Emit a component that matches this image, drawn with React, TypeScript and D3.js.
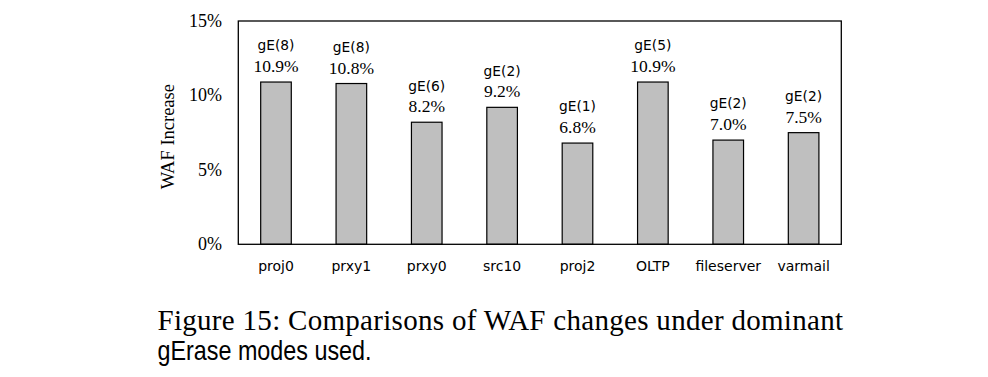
import React from "react";
import * as d3 from "d3";

const categories = ["proj0", "prxy1", "prxy0", "src10", "proj2", "OLTP", "fileserver", "varmail"];
const values = [10.9, 10.8, 8.2, 9.2, 6.8, 10.9, 7.0, 7.5];
const modes = ["gE(8)", "gE(8)", "gE(6)", "gE(2)", "gE(1)", "gE(5)", "gE(2)", "gE(2)"];
const yTicks = [0, 5, 10, 15];

const W = 988;
const H = 377;
const left = 238.3;
const right = 841.3;
const top = 21;
const bottom = 244.3;

export default function App() {
  const x = d3
    .scaleBand<string>()
    .domain(categories)
    .range([left, right])
    .paddingInner(0.594)
    .paddingOuter(0.297);
  const y = d3.scaleLinear().domain([0, 15]).range([bottom, top]);
  const serif = "'Liberation Serif', 'Times New Roman', serif";
  const sans = "'DejaVu Sans', Verdana, sans-serif";

  return (
    <svg
      width={W}
      height={H}
      viewBox={`0 0 ${W} ${H}`}
      style={{ position: "absolute", left: 0, top: 0, background: "#fff" }}
    >
      <rect x={0} y={0} width={W} height={H} fill="#fff" />
      {categories.map((c, i) => (
        <g key={c}>
          <rect
            x={x(c)}
            y={y(values[i])}
            width={x.bandwidth()}
            height={y(0) - y(values[i])}
            fill="#bfbfbf"
            stroke="#000"
            strokeWidth={1.2}
          />
          <text
            x={(x(c) as number) + x.bandwidth() / 2}
            y={y(values[i]) - 10}
            textAnchor="middle"
            fontFamily={serif}
            fontSize={17.5}
            fill="#000"
          >
            {values[i].toFixed(1) + "%"}
          </text>
          <text
            x={(x(c) as number) + x.bandwidth() / 2}
            y={y(values[i]) - 31.7}
            textAnchor="middle"
            fontFamily={sans}
            fontSize={13.8}
            fill="#000"
          >
            {modes[i]}
          </text>
          <text
            x={(x(c) as number) + x.bandwidth() / 2}
            y={271}
            textAnchor="middle"
            fontFamily={sans}
            fontSize={14}
            fill="#000"
          >
            {c}
          </text>
        </g>
      ))}
      <rect
        x={left}
        y={top}
        width={right - left}
        height={bottom - top}
        fill="none"
        stroke="#000"
        strokeWidth={1.3}
      />
      {yTicks.map((t) => (
        <text
          key={t}
          x={222}
          y={y(t)}
          dy="0.33em"
          textAnchor="end"
          fontFamily={serif}
          fontSize={18}
          fill="#000"
        >
          {t + "%"}
        </text>
      ))}
      <text
        transform={`translate(174, ${(top + bottom) / 2 + 4}) rotate(-90)`}
        textAnchor="middle"
        fontFamily={serif}
        fontSize={18.5}
        fill="#000"
      >
        WAF Increase
      </text>
      <text
        x={157.5}
        y={329.5}
        fontFamily={serif}
        fontSize={29}
        fill="#000"
        textLength={685.5}
        lengthAdjust="spacing"
      >
        Figure 15: Comparisons of WAF changes under dominant
      </text>
      <text
        x={157.5}
        y={360}
        fontFamily="'Liberation Sans Narrow', 'Liberation Sans', Arial, sans-serif"
        fontSize={27.5}
        fill="#000"
        textLength={214}
        lengthAdjust="spacingAndGlyphs"
      >
        gErase modes used.
      </text>
    </svg>
  );
}
